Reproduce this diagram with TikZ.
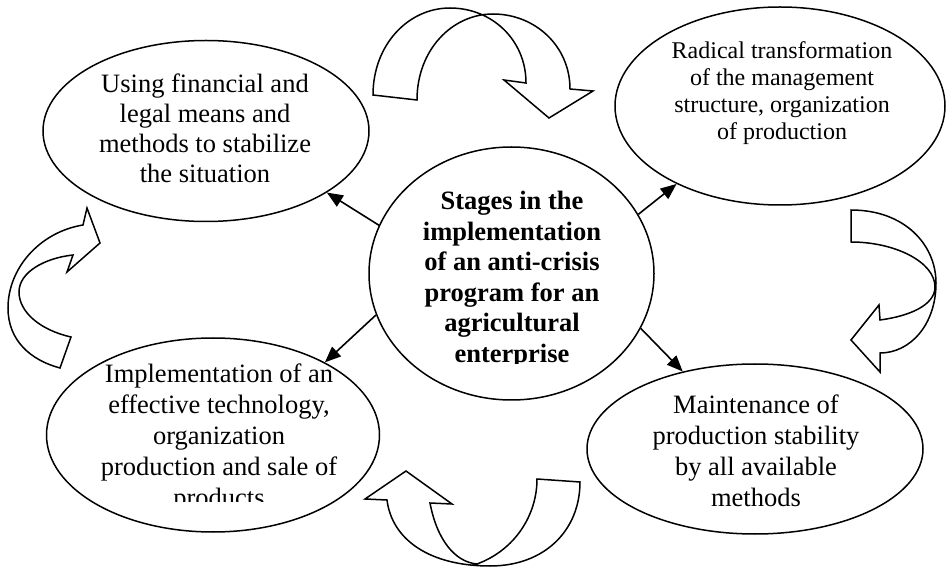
\documentclass[tikz,border=0pt]{standalone}
\usepackage{fontspec}
\setmainfont{Liberation Serif}
\usetikzlibrary{shapes.geometric,arrows.meta}
\begin{document}
\begin{tikzpicture}[x={(1pt,0)},y={(0,-1pt)},
  ell/.style={draw, ellipse, line width=1.5pt, inner sep=0pt},
  txt/.style={align=center, inner sep=0pt, anchor=base},
  nfont/.style={font=\fontsize{26.5}{30}\selectfont},
  sfont/.style={font=\fontsize{24}{27.3}\selectfont},
  bfont/.style={font=\fontsize{26.5}{30.5}\selectfont\bfseries},
  arr/.style={line width=1.6pt, -{Triangle[length=16pt,width=13pt]}},
  bigarrow/.style={draw, line width=1.5pt, line join=miter}]
\useasboundingbox (0,0) rectangle (946,569);

% ellipses
\node[ell, minimum width=326pt, minimum height=181pt] (TL) at (206,131) {};
\node[ell, minimum width=330pt, minimum height=198pt] (TR) at (780,106) {};
\node[ell, minimum width=285pt, minimum height=253pt] (C) at (511.5,273.5) {};
\node[ell, minimum width=333pt, minimum height=194pt] (BL) at (213,435) {};
\node[ell, minimum width=336pt, minimum height=170pt] (BR) at (755,449) {};

% texts (anchor base = baseline of last line)
\node[txt, nfont] (tTL) at (205,182.5) {Using financial and\\legal means and\\methods to stabilize\\the situation};
\node[txt, sfont] (tTR) at (782,140) {Radical transformation\\of the management\\structure, organization\\of production};
\begin{scope}
\clip (370,150) rectangle (654,364);
\node[txt, bfont] (tC) at (512,362.5) {Stages in the\\implementation\\of an anti-crisis\\program for an\\agricultural\\enterprise};
\end{scope}
\begin{scope}
\clip (50,345) rectangle (380,501);
\node[txt, font=\fontsize{26.5}{30.8}\selectfont] (tBL) at (219,506) {Implementation of an\\effective technology,\\organization\\production and sale of\\products};
\end{scope}
\node[txt, font=\fontsize{26.5}{31}\selectfont] (tBR) at (756,506) {Maintenance of\\production stability\\by all available\\methods};

% straight arrows
\draw[arr] (C.160.3) -- (TL.-27);
\draw[arr] (C.197.8) -- (BL.33.8);
\draw[arr] (C.25.1) -- (TR.-143);
\draw[arr] (C.-23.5) -- (BR.133.6);

% top curved arrow
\path[bigarrow] (373,95) .. controls (373,45) and (408,8) .. (450,8)
  .. controls (492,8) and (526,40) .. (526,83)
  -- (504,80) -- (549,118) -- (593,91) -- (570,89)
  .. controls (570,46) and (535,14) .. (493,14)
  .. controls (452,14) and (417,50) .. (417,100) -- cycle;

% right curved arrow
\path[bigarrow] (851,210) .. controls (905,210) and (936,245) .. (936,283)
  .. controls (936,325) and (910,353) .. (880,353)
  -- (880,372) -- (851,340) -- (879,305) -- (880,320)
  .. controls (910,316) and (935,305) .. (935,287)
  .. controls (935,262) and (895,242) .. (851,242) -- cycle;

% bottom curved arrow
\path[bigarrow] (387,500) -- (365,499) -- (406,471) -- (452,504) -- (430,503)
  .. controls (437,540) and (455,562) .. (477,564)
  .. controls (515,550) and (537,515) .. (537,479)
  -- (580,482)
  .. controls (580,530) and (545,566) .. (490,566)
  .. controls (430,566) and (392,540) .. (387,500) -- cycle;

% left curved arrow
\path[bigarrow] (83,225) -- (87,208) -- (100,243) -- (67,272) -- (73,255)
  .. controls (45,258) and (19,272) .. (19,292)
  .. controls (19,312) and (40,330) .. (71,337)
  -- (60,368)
  .. controls (30,360) and (8,340) .. (8,308)
  .. controls (8,268) and (40,232) .. (83,225) -- cycle;
\end{tikzpicture}
\end{document}
